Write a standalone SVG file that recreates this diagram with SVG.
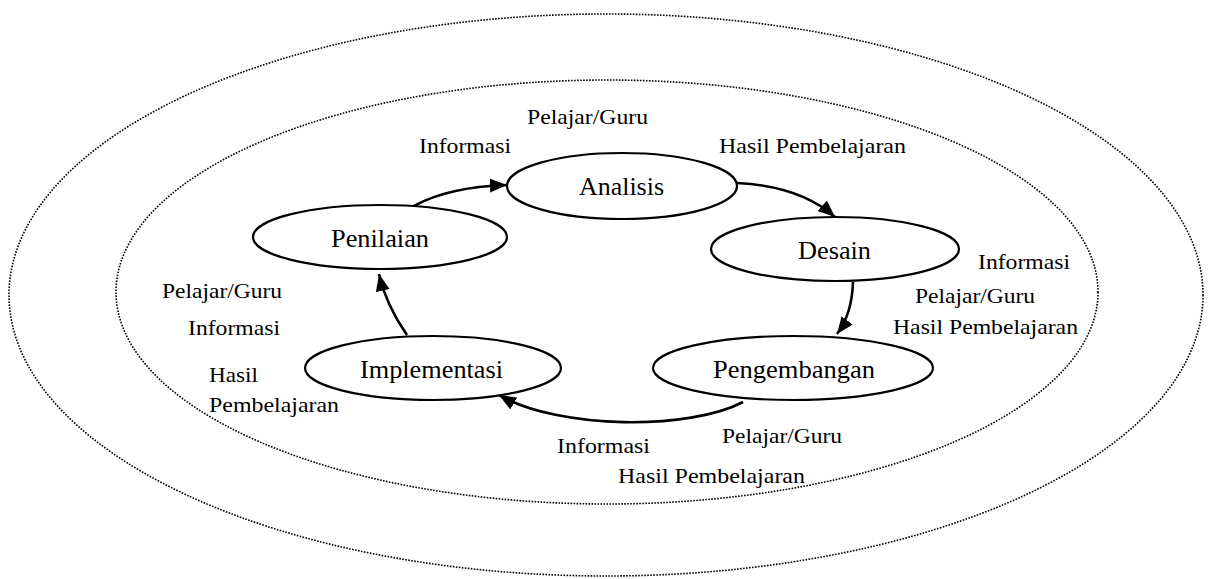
<svg xmlns="http://www.w3.org/2000/svg" width="1210" height="579" viewBox="0 0 1210 579">
<style>
.dot{fill:none;stroke:#000;stroke-width:1.6;stroke-dasharray:1.6 1.4}
.node{fill:#fff;stroke:#000;stroke-width:2.2}
.nt{font-size:26px;fill:#000}
.lb{font-size:22px;fill:#000}
.con{fill:none;stroke:#000;stroke-width:2.6}
text{font-family:'Liberation Serif','DejaVu Serif',serif}
</style>
<defs>
<marker id="ah" markerUnits="userSpaceOnUse" markerWidth="18" markerHeight="16" viewBox="0 0 18 16" refX="17" refY="8" orient="auto">
<path d="M0,1 L17,8 L0,15 z" fill="#000"/>
</marker>
</defs>
<g id="boundaries">
<ellipse class="dot" cx="606" cy="295" rx="597" ry="281"/>
<ellipse class="dot" cx="607" cy="292" rx="491" ry="212"/>
</g>
<g id="connectors">
<path class="con" d="M414,206 Q448,187 507,185" marker-end="url(#ah)"/>
<path class="con" d="M737,183 Q800,186 835,217" marker-end="url(#ah)"/>
<path class="con" d="M853,282 Q852,314 837,334" marker-end="url(#ah)"/>
<path class="con" d="M743,402 C690,430 560,430 499,395" marker-end="url(#ah)"/>
<path class="con" d="M407,335 Q386,305 379,274" marker-end="url(#ah)"/>
</g>
<g id="analisis">
<ellipse class="node" cx="622" cy="186" rx="115" ry="33"/>
<text class="nt" x="579" y="195" textLength="85" lengthAdjust="spacingAndGlyphs">Analisis</text>
</g>
<g id="desain">
<ellipse class="node" cx="835" cy="249" rx="124" ry="32"/>
<text class="nt" x="798" y="259" textLength="73" lengthAdjust="spacingAndGlyphs">Desain</text>
</g>
<g id="pengembangan">
<ellipse class="node" cx="793" cy="368" rx="140" ry="32"/>
<text class="nt" x="713" y="378" textLength="162" lengthAdjust="spacingAndGlyphs">Pengembangan</text>
</g>
<g id="implementasi">
<ellipse class="node" cx="433" cy="368" rx="128" ry="32"/>
<text class="nt" x="360" y="378" textLength="143" lengthAdjust="spacingAndGlyphs">Implementasi</text>
</g>
<g id="penilaian">
<ellipse class="node" cx="380" cy="237" rx="127" ry="32"/>
<text class="nt" x="331" y="247" textLength="98" lengthAdjust="spacingAndGlyphs">Penilaian</text>
</g>
<g id="labels">
<text class="lb" x="527" y="124" textLength="121" lengthAdjust="spacingAndGlyphs">Pelajar/Guru</text>
<text class="lb" x="419" y="153" textLength="92" lengthAdjust="spacingAndGlyphs">Informasi</text>
<text class="lb" x="719" y="153" textLength="187" lengthAdjust="spacingAndGlyphs">Hasil Pembelajaran</text>
<text class="lb" x="978" y="269" textLength="92" lengthAdjust="spacingAndGlyphs">Informasi</text>
<text class="lb" x="915" y="303" textLength="120" lengthAdjust="spacingAndGlyphs">Pelajar/Guru</text>
<text class="lb" x="893" y="334" textLength="185" lengthAdjust="spacingAndGlyphs">Hasil Pembelajaran</text>
<text class="lb" x="162" y="298" textLength="120" lengthAdjust="spacingAndGlyphs">Pelajar/Guru</text>
<text class="lb" x="188" y="335" textLength="92" lengthAdjust="spacingAndGlyphs">Informasi</text>
<text class="lb" x="209" y="382" textLength="49" lengthAdjust="spacingAndGlyphs">Hasil</text>
<text class="lb" x="209" y="412" textLength="130" lengthAdjust="spacingAndGlyphs">Pembelajaran</text>
<text class="lb" x="557" y="453" textLength="93" lengthAdjust="spacingAndGlyphs">Informasi</text>
<text class="lb" x="722" y="443" textLength="120" lengthAdjust="spacingAndGlyphs">Pelajar/Guru</text>
<text class="lb" x="618" y="483" textLength="187" lengthAdjust="spacingAndGlyphs">Hasil Pembelajaran</text>
</g>
</svg>
